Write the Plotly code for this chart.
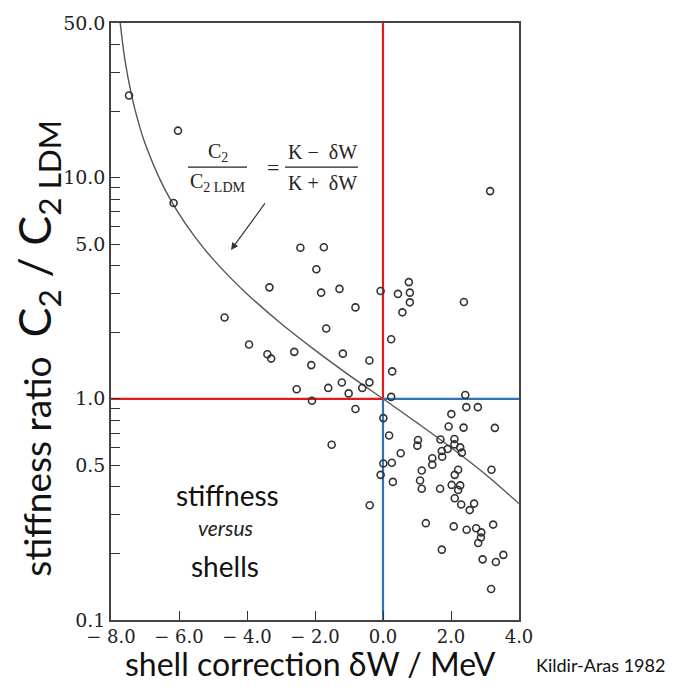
import plotly.graph_objects as go

# ---- data ----
dw_points = [-7.47, -6.03, -6.16, -2.43, -1.74, -1.96, -3.34, -1.82, -1.28, -0.07,
             -0.81, -4.66, -1.67, -3.94, -3.40, -3.29, -2.61, -1.18, -2.11, -0.40,
             -2.54, -1.61, -1.21, -1.01, -0.61, -0.40, -2.09, -0.81, -1.51, -0.39,
             0.76, 0.44, 0.79, 0.79, 0.57, 2.38, 3.15, 0.24, 0.27, 0.24, 2.42,
             2.45, 2.79, 2.01, 1.93, 2.37, 3.29, 0.01, 0.18, 1.03, 1.01, 0.52,
             1.69, 2.10, 1.73, 1.90, 2.10, 2.27, 2.32, 1.74, 1.45, 1.45, 0.01,
             0.26, -0.07, 0.29, 1.14, 1.09, 1.14, 1.68, 2.21, 2.11, 2.02, 2.27,
             2.21, 3.19, 2.11, 2.30, 2.68, 2.55, 1.26, 2.08, 2.46, 2.74, 2.89,
             2.88, 2.80, 3.24, 1.73, 2.93, 3.32, 3.54, 3.18]
ratio_points = [23.5, 16.3, 7.68, 4.82, 4.84, 3.85, 3.19, 3.02, 3.14, 3.07,
                2.59, 2.33, 2.08, 1.76, 1.59, 1.52, 1.63, 1.60, 1.42, 1.49,
                1.105, 1.12, 1.185, 1.058, 1.12, 1.187, 0.98, 0.90, 0.62, 0.33,
                3.37, 2.98, 3.02, 2.73, 2.46, 2.74, 8.69, 1.86, 1.33, 1.02, 1.04,
                0.917, 0.917, 0.853, 0.749, 0.741, 0.739, 0.818, 0.683, 0.651, 0.614, 0.567,
                0.655, 0.658, 0.581, 0.593, 0.622, 0.603, 0.571, 0.547, 0.539, 0.504, 0.510,
                0.514, 0.453, 0.421, 0.474, 0.427, 0.392, 0.392, 0.478, 0.453, 0.408, 0.406,
                0.387, 0.478, 0.355, 0.333, 0.336, 0.314, 0.274, 0.265, 0.256, 0.260, 0.249,
                0.236, 0.223, 0.270, 0.208, 0.188, 0.183, 0.197, 0.138]

curve_x = [-7.8, -7.6, -7.4, -7.2, -7.0, -6.5, -6.0, -5.5, -5.0, -4.5, -4.0,
           -3.0, -2.0, -1.0, 0.0, 1.0, 2.0, 3.0, 4.0]
curve_y = [63.4, 34.8, 23.8, 17.9, 14.3, 9.39, 6.85, 5.31, 4.28, 3.54, 2.98,
           2.19, 1.66, 1.28, 1.0, 0.779, 0.602, 0.457, 0.336]

red_h_x, red_h_y = [-8, 0], [1, 1]
red_v_x, red_v_y = [0, 0], [1, 50]
blue_h_x, blue_h_y = [0, 4], [1, 1]
blue_v_x, blue_v_y = [0, 0], [0.1, 1]

x_tick_vals = [-8, -6, -4, -2, 0, 2, 4]
x_tick_text = ["\u2212 8.0", "\u2212 6.0", "\u2212 4.0", "\u2212 2.0", "0.0", "2.0", "4.0"]
y_tick_vals = [0.1, 0.2, 0.3, 0.4, 0.5, 0.6, 0.7, 0.8, 0.9, 1, 2, 3, 4, 5, 6, 7, 8, 9, 10, 20, 30, 40, 50]
y_labels = {0.1: "0.1", 0.5: "0.5", 1: "1.0", 5: "5.0", 10: "10.0", 50: "50.0"}
y_tick_text = [y_labels.get(v, "") for v in y_tick_vals]

RED = "#e3191c"
BLUE = "#2f75b5"
serif = "DejaVu Serif"
fserif = "Liberation Serif"
sans = "Lato"

fig = go.Figure()
fig.add_trace(go.Scatter(x=curve_x, y=curve_y, mode="lines", line=dict(color="#555", width=1.4, shape="spline"),
                         hoverinfo="skip"))
fig.add_trace(go.Scatter(x=red_h_x, y=red_h_y, mode="lines", line=dict(color=RED, width=2.2)))
fig.add_trace(go.Scatter(x=red_v_x, y=red_v_y, mode="lines", line=dict(color=RED, width=2.2)))
fig.add_trace(go.Scatter(x=blue_h_x, y=blue_h_y, mode="lines", line=dict(color=BLUE, width=2.2)))
fig.add_trace(go.Scatter(x=blue_v_x, y=blue_v_y, mode="lines", line=dict(color=BLUE, width=2.2)))
fig.add_trace(go.Scatter(x=dw_points, y=ratio_points, mode="markers",
                         marker=dict(symbol="circle-open", size=7, color="#333", line=dict(width=1.6))))

W, H = 677, 688
L, R, T, B = 111, 158, 15, 68
pw, ph = W - L - R, H - T - B


def px(X):
    return (X - L) / pw


def py(Y):
    return (H - B - Y) / ph


annotations = [
    dict(x=px(218), y=py(146), text="C<sub>2</sub>", font=dict(family=fserif, size=20, color="#222")),
    dict(x=px(218), y=py(177), text="C<sub>2 LDM</sub>", font=dict(family=fserif, size=20, color="#222")),
    dict(x=px(273), y=py(161), text="=", font=dict(family=fserif, size=22, color="#222")),
    dict(x=px(322), y=py(146), text="K \u2212  \u03b4W", font=dict(family=fserif, size=20, color="#222")),
    dict(x=px(322), y=py(177), text="K +  \u03b4W", font=dict(family=fserif, size=20, color="#222")),
    dict(x=px(231), y=py(245), ax=35, ay=-48, text="", showarrow=True, arrowhead=2, arrowsize=1.2,
         arrowwidth=1.2, arrowcolor="#333"),
    dict(x=px(227), y=py(493), text="stiffness", font=dict(family=sans, size=28, color="#111")),
    dict(x=px(225), y=py(526), text="<i>versus</i>", font=dict(family=sans, size=21, color="#222")),
    dict(x=px(225), y=py(565), text="shells", font=dict(family=sans, size=28, color="#111")),
    dict(x=px(310), y=py(664), text="shell correction \u03b4W / MeV", font=dict(family=sans, size=32, color="#111")),
    dict(x=px(600), y=py(666), text="Kildir-Aras 1982", font=dict(family=sans, size=18, color="#111")),
    dict(x=px(37), y=py(345), textangle=-90,
         text="stiffness ratio  <span style='font-size:45px'>C<sub>2</sub> / C<sub>2 LDM</sub></span>",
         font=dict(family=sans, size=37, color="#111")),
]
for a in annotations:
    a.setdefault("showarrow", False)
    a["xref"] = "paper"
    a["yref"] = "paper"
    a["xanchor"] = "center"
    a["yanchor"] = "middle"

fig.update_layout(
    width=W, height=H, margin=dict(l=L, r=R, t=T, b=B),
    paper_bgcolor="white", plot_bgcolor="white", showlegend=False,
    annotations=annotations,
    shapes=[
        dict(type="line", xref="paper", yref="paper", x0=px(188), x1=px(247), y0=py(161), y1=py(161),
             line=dict(color="#222", width=1.3)),
        dict(type="line", xref="paper", yref="paper", x0=px(285), x1=px(358), y0=py(161), y1=py(161),
             line=dict(color="#222", width=1.3)),
    ],
)
fig.update_xaxes(range=[-8, 4], tickvals=x_tick_vals, ticktext=x_tick_text, ticks="inside", ticklen=9,
                 tickcolor="#333", tickwidth=1.3, showgrid=False, zeroline=False, showline=True,
                 linecolor="#444", linewidth=1.5, mirror=True,
                 tickfont=dict(family=serif, size=18, color="#222"))
fig.update_yaxes(type="log", range=[-1, 1.69897], tickvals=y_tick_vals, ticktext=y_tick_text, ticks="inside",
                 ticklen=9, tickcolor="#333", tickwidth=1.3, showgrid=False, zeroline=False, showline=True,
                 linecolor="#444", linewidth=1.5, mirror=True,
                 tickfont=dict(family=serif, size=19, color="#222"))

fig.write_html("out.html")
